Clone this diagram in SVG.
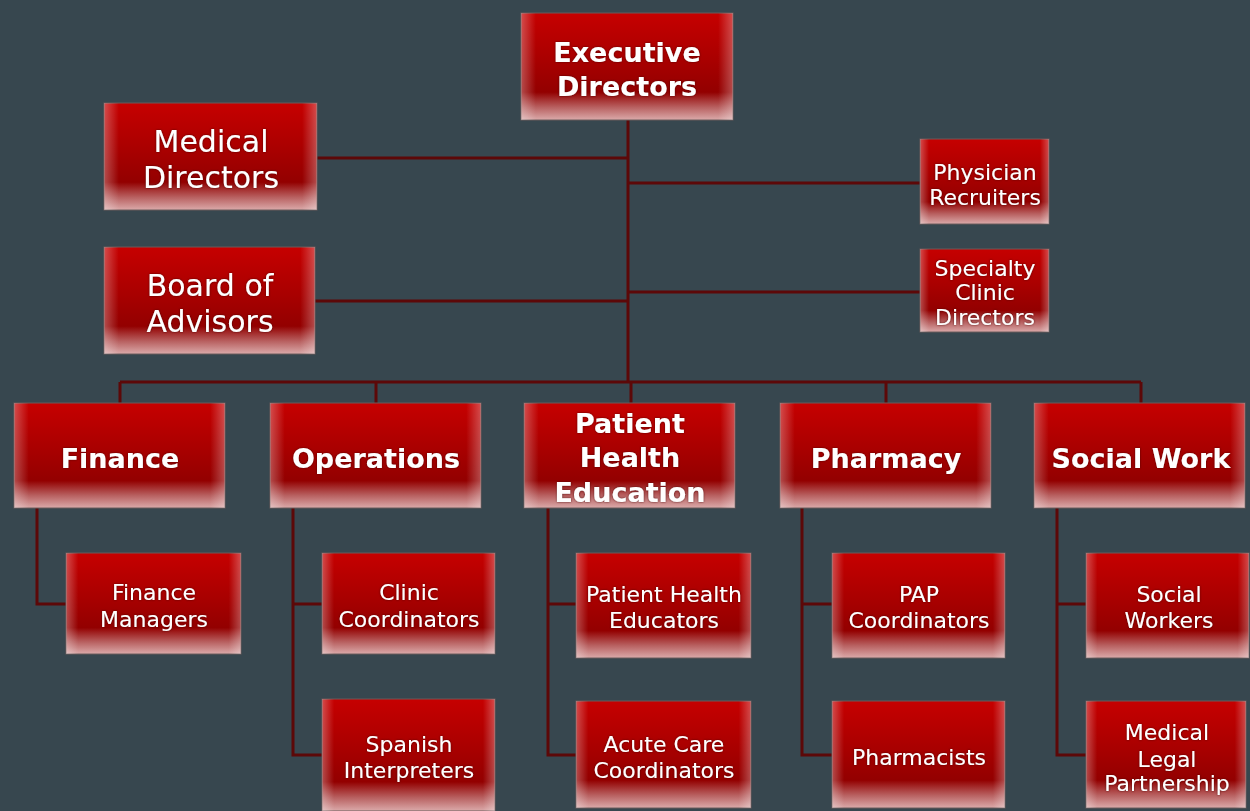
<svg xmlns="http://www.w3.org/2000/svg" width="1250" height="811" viewBox="0 0 1250 811">
<style>
.box{fill:url(#gv);stroke:#6a5a5a;stroke-width:1}
.glow{fill:url(#gh);stroke:none}
.t{fill:#ffffff;font-family:"DejaVu Sans",sans-serif;text-anchor:middle;filter:url(#ts)}
.big{font-size:30px}
.bold{font-size:27px;font-weight:bold}
.sm{font-size:22px}
.con path{fill:none;stroke:#5c0808;stroke-width:3}
</style>
<defs>
<linearGradient id="gv" x1="0" y1="0" x2="0" y2="1">
<stop offset="0" stop-color="#c60000"/>
<stop offset="0.45" stop-color="#a80000"/>
<stop offset="0.74" stop-color="#930000"/>
<stop offset="0.88" stop-color="#b86060"/>
<stop offset="1" stop-color="#dbaaaa"/>
</linearGradient>
<linearGradient id="gh" x1="0" y1="0" x2="1" y2="0">
<stop offset="0" stop-color="#ffffff" stop-opacity="0.3"/>
<stop offset="0.07" stop-color="#ffffff" stop-opacity="0"/>
<stop offset="0.93" stop-color="#ffffff" stop-opacity="0"/>
<stop offset="1" stop-color="#ffffff" stop-opacity="0.3"/>
</linearGradient>
<filter id="ts" x="-10%" y="-30%" width="120%" height="160%">
<feDropShadow dx="0" dy="0" stdDeviation="1" flood-color="#3a0010" flood-opacity="0.8"/>
</filter>
</defs>
<rect width="1250" height="811" fill="#37474f"/>

<g class="con">
<path d="M628,120 V382"/>
<path d="M317,158 H628"/>
<path d="M315,301 H628"/>
<path d="M628,183 H920"/>
<path d="M628,292 H920"/>
<path d="M120,382 H1141"/>
<path d="M120,382 V403 M376,382 V403 M631,382 V403 M886,382 V403 M1141,382 V403"/>
<path d="M37,508 V604 H66"/>
<path d="M293,508 V755 H322 M293,604 H322"/>
<path d="M548,508 V755 H576 M548,604 H576"/>
<path d="M802,508 V755 H832 M802,604 H832"/>
<path d="M1057,508 V755 H1086 M1057,604 H1086"/>
</g>

<g id="executive-directors">
<rect class="box" x="521" y="13" width="212" height="107"/><rect class="glow" x="521" y="13" width="212" height="107"/>
<text class="t bold" x="627" y="62">Executive</text><text class="t bold" x="627" y="96">Directors</text>
</g>
<g id="medical-directors">
<rect class="box" x="104" y="103" width="213" height="107"/><rect class="glow" x="104" y="103" width="213" height="107"/>
<text class="t big" x="211" y="152">Medical</text><text class="t big" x="211" y="188">Directors</text>
</g>
<g id="board-of-advisors">
<rect class="box" x="104" y="247" width="211" height="107"/><rect class="glow" x="104" y="247" width="211" height="107"/>
<text class="t big" x="210" y="296">Board of</text><text class="t big" x="210" y="332">Advisors</text>
</g>
<g id="physician-recruiters">
<rect class="box" x="920" y="139" width="129" height="85"/><rect class="glow" x="920" y="139" width="129" height="85"/>
<text class="t sm" x="985" y="180">Physician</text><text class="t sm" x="985" y="205">Recruiters</text>
</g>
<g id="specialty-clinic-directors">
<rect class="box" x="920" y="249" width="129" height="83"/><rect class="glow" x="920" y="249" width="129" height="83"/>
<text class="t sm" x="985" y="276">Specialty</text><text class="t sm" x="985" y="300">Clinic</text><text class="t sm" x="985" y="325">Directors</text>
</g>

<g id="finance">
<rect class="box" x="14" y="403" width="211" height="105"/><rect class="glow" x="14" y="403" width="211" height="105"/>
<text class="t bold" x="120" y="468">Finance</text>
</g>
<g id="operations">
<rect class="box" x="270" y="403" width="211" height="105"/><rect class="glow" x="270" y="403" width="211" height="105"/>
<text class="t bold" x="376" y="468">Operations</text>
</g>
<g id="patient-health-education">
<rect class="box" x="524" y="403" width="211" height="105"/><rect class="glow" x="524" y="403" width="211" height="105"/>
<text class="t bold" x="630" y="433">Patient</text><text class="t bold" x="630" y="467">Health</text><text class="t bold" x="630" y="502">Education</text>
</g>
<g id="pharmacy">
<rect class="box" x="780" y="403" width="211" height="105"/><rect class="glow" x="780" y="403" width="211" height="105"/>
<text class="t bold" x="886" y="468">Pharmacy</text>
</g>
<g id="social-work">
<rect class="box" x="1034" y="403" width="211" height="105"/><rect class="glow" x="1034" y="403" width="211" height="105"/>
<text class="t bold" x="1141" y="468">Social Work</text>
</g>

<g id="finance-managers">
<rect class="box" x="66" y="553" width="175" height="101"/><rect class="glow" x="66" y="553" width="175" height="101"/>
<text class="t sm" x="154" y="600">Finance</text><text class="t sm" x="154" y="627">Managers</text>
</g>
<g id="clinic-coordinators">
<rect class="box" x="322" y="553" width="173" height="101"/><rect class="glow" x="322" y="553" width="173" height="101"/>
<text class="t sm" x="409" y="600">Clinic</text><text class="t sm" x="409" y="627">Coordinators</text>
</g>
<g id="patient-health-educators">
<rect class="box" x="576" y="553" width="175" height="105"/><rect class="glow" x="576" y="553" width="175" height="105"/>
<text class="t sm" x="664" y="602">Patient Health</text><text class="t sm" x="664" y="628">Educators</text>
</g>
<g id="pap-coordinators">
<rect class="box" x="832" y="553" width="173" height="105"/><rect class="glow" x="832" y="553" width="173" height="105"/>
<text class="t sm" x="919" y="602">PAP</text><text class="t sm" x="919" y="628">Coordinators</text>
</g>
<g id="social-workers">
<rect class="box" x="1086" y="553" width="163" height="105"/><rect class="glow" x="1086" y="553" width="163" height="105"/>
<text class="t sm" x="1169" y="602">Social</text><text class="t sm" x="1169" y="628">Workers</text>
</g>

<g id="spanish-interpreters">
<rect class="box" x="322" y="699" width="173" height="112"/><rect class="glow" x="322" y="699" width="173" height="112"/>
<text class="t sm" x="409" y="752">Spanish</text><text class="t sm" x="409" y="778">Interpreters</text>
</g>
<g id="acute-care-coordinators">
<rect class="box" x="576" y="701" width="175" height="107"/><rect class="glow" x="576" y="701" width="175" height="107"/>
<text class="t sm" x="664" y="752">Acute Care</text><text class="t sm" x="664" y="778">Coordinators</text>
</g>
<g id="pharmacists">
<rect class="box" x="832" y="701" width="173" height="107"/><rect class="glow" x="832" y="701" width="173" height="107"/>
<text class="t sm" x="919" y="765">Pharmacists</text>
</g>
<g id="medical-legal-partnership">
<rect class="box" x="1086" y="701" width="160" height="107"/><rect class="glow" x="1086" y="701" width="160" height="107"/>
<text class="t sm" x="1167" y="740">Medical</text><text class="t sm" x="1167" y="767">Legal</text><text class="t sm" x="1167" y="791">Partnership</text>
</g>
</svg>
